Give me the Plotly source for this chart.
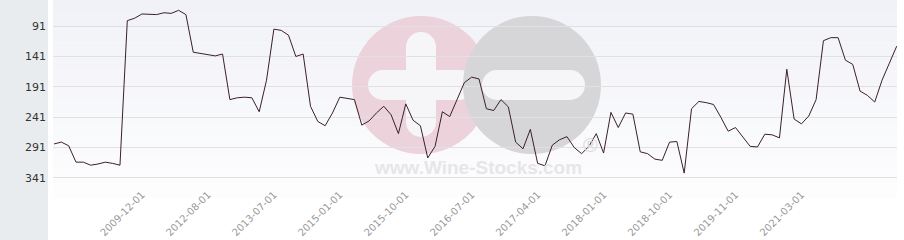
import plotly.graph_objects as go

dates = [
    "2005-01-01", "2005-07-01", "2006-01-01", "2006-06-01", "2006-12-01", "2007-05-01",
    "2007-11-01", "2008-04-01", "2008-09-01", "2009-02-01", "2009-05-01", "2009-09-01",
    "2009-12-01",
    "2010-04-01", "2010-08-01", "2010-12-01", "2011-03-01", "2011-06-01", "2011-10-01",
    "2012-01-01", "2012-05-01",
    "2012-08-01",
    "2012-10-01", "2012-11-01", "2013-01-01", "2013-02-01", "2013-03-01", "2013-04-01",
    "2013-05-01", "2013-06-01",
    "2013-07-01",
    "2013-09-01", "2013-11-01", "2014-01-01", "2014-03-01", "2014-05-01", "2014-07-01",
    "2014-09-01", "2014-11-01",
    "2015-01-01",
    "2015-02-01", "2015-03-01", "2015-04-01", "2015-05-01", "2015-06-01", "2015-07-01",
    "2015-08-01", "2015-09-01",
    "2015-10-01",
    "2015-11-01", "2015-12-01", "2016-01-01", "2016-02-01", "2016-03-01", "2016-04-01",
    "2016-05-01", "2016-06-01",
    "2016-07-01",
    "2016-08-01", "2016-09-01", "2016-10-01", "2016-11-01", "2016-12-01", "2017-01-01",
    "2017-02-01", "2017-03-01",
    "2017-04-01",
    "2017-05-01", "2017-06-01", "2017-07-01", "2017-08-01", "2017-09-01", "2017-10-01",
    "2017-11-01", "2017-12-01",
    "2018-01-01",
    "2018-02-01", "2018-03-01", "2018-04-01", "2018-05-01", "2018-06-01", "2018-07-01",
    "2018-08-01", "2018-09-01",
    "2018-10-01",
    "2018-11-01", "2019-01-01", "2019-02-01", "2019-04-01", "2019-05-01", "2019-07-01",
    "2019-08-01", "2019-10-01",
    "2019-11-01",
    "2020-01-01", "2020-03-01", "2020-05-01", "2020-06-01", "2020-08-01", "2020-10-01",
    "2020-12-01", "2021-01-01",
    "2021-03-01",
    "2021-04-01", "2021-05-01", "2021-06-01", "2021-07-01", "2021-08-01", "2021-09-01",
    "2021-10-01", "2021-11-01", "2021-12-01", "2022-01-01", "2022-02-01", "2022-03-01",
    "2022-04-01",
]

ranks = [
    285, 282, 288, 315, 315, 320, 318, 315, 317, 320,
    82, 78, 71, 72, 72, 69, 70, 65, 72, 134,
    136, 137, 140, 137, 212, 209, 208, 209, 232, 180,
    96, 98, 106, 141, 137, 223, 248, 255, 234, 208,
    210, 212, 254, 247, 234, 223, 237, 268, 219, 246,
    255, 308, 289, 232, 240, 212, 184, 175, 178, 227,
    230, 212, 224, 282, 293, 261, 317, 321, 287, 278,
    273, 291, 301, 289, 268, 300, 233, 258, 234, 236,
    298, 301, 310, 312, 282, 281, 333, 227, 215, 217,
    220, 241, 264, 258, 274, 289, 290, 269, 270, 275,
    162, 244, 252, 239, 212, 115, 110, 110, 147, 154,
    198, 205, 216, 180, 152, 124,
]

x_ticks = ["2009-12-01", "2012-08-01", "2013-07-01", "2015-01-01", "2015-10-01",
           "2016-07-01", "2017-04-01", "2018-01-01", "2018-10-01", "2019-11-01",
           "2021-03-01"]
y_ticks = [91, 141, 191, 241, 291, 341]

W, H = 904, 240
L, R, T, B = 53, 7, 0, 42
PW, PH = W - L - R, H - T - B


def xp(px):
    return (px - L) / PW


def yp(py):
    return (T + PH - py) / PH


shapes = []
# left grey panel
shapes.append(dict(type="rect", xref="paper", yref="paper", x0=xp(0), x1=xp(48),
                   y0=yp(H), y1=yp(0), fillcolor="#e8ecef", line_width=0, layer="below"))
# background gradient bands
n = 14
c_top = (241, 242, 247)
c_bot = (253, 253, 254)
for k in range(n):
    t = k / (n - 1)
    c = tuple(round(c_top[j] + (c_bot[j] - c_top[j]) * t) for j in range(3))
    shapes.append(dict(type="rect", xref="paper", yref="paper", x0=0, x1=1,
                       y0=1 - (k + 1) / n, y1=1 - k / n,
                       fillcolor="rgb(%d,%d,%d)" % c, line_width=0, layer="below"))


def circle(cx, cy, r, color):
    return dict(type="circle", xref="paper", yref="paper", x0=xp(cx - r), x1=xp(cx + r),
                y0=yp(cy + r), y1=yp(cy - r), fillcolor=color, line_width=0, layer="below")


def rect(x0, y0, x1, y1, color):
    return dict(type="rect", xref="paper", yref="paper", x0=xp(x0), x1=xp(x1),
                y0=yp(y1), y1=yp(y0), fillcolor=color, line_width=0, layer="below")


pink = "#ecd2da"
grey = "#d6d6d9"
hole = "#f6f6f9"
# plus sign watermark
shapes.append(circle(421, 85, 69, pink))
shapes.append(rect(406, 47, 436, 122, hole))
shapes.append(circle(421, 47, 15, hole))
shapes.append(circle(421, 122, 15, hole))
shapes.append(rect(383, 70, 460, 100, hole))
shapes.append(circle(383, 85, 15, hole))
shapes.append(circle(460, 85, 15, hole))
# minus sign watermark
shapes.append(circle(532, 85, 69, grey))
shapes.append(rect(497, 70, 570, 100, hole))
shapes.append(circle(497, 85, 15, hole))
shapes.append(circle(570, 85, 15, hole))

annotations = [
    dict(xref="paper", yref="paper", x=xp(478), y=yp(167), text="<b>www.Wine-Stocks.com</b>",
         showarrow=False, font=dict(family="Liberation Sans", size=19, color="#e6e6e9"),
         xanchor="center", yanchor="middle"),
    dict(xref="paper", yref="paper", x=xp(590), y=yp(145), text="®",
         showarrow=False, font=dict(family="Liberation Sans", size=20, color="#dadadd"),
         xanchor="center", yanchor="middle"),
]

fig = go.Figure()
fig.add_trace(go.Scatter(x=dates, y=ranks, mode="lines",
                         line=dict(color="#3b1f2b", width=1), hoverinfo="x+y"))

fig.update_layout(
    width=W, height=H,
    margin=dict(l=L, r=R, t=T, b=B, pad=0),
    paper_bgcolor="white",
    plot_bgcolor="rgba(0,0,0,0)",
    showlegend=False,
    shapes=shapes,
    annotations=annotations,
    font=dict(family="DejaVu Sans"),
)
fig.update_xaxes(type="category", range=[-0.14, 115.04], tickmode="array", tickvals=x_ticks,
                 ticktext=x_ticks, tickangle=-45, showgrid=False, showline=False, zeroline=False,
                 ticks="", automargin=False, ticklabelstandoff=-12,
                 tickfont=dict(family="DejaVu Sans", size=10, color="#999999"))
fig.update_yaxes(range=[374, 48], tickmode="array", tickvals=y_ticks,
                 ticktext=[str(v) for v in y_ticks], showgrid=True, gridcolor="#e1e1e5",
                 gridwidth=1, zeroline=False, showline=False, ticks="", automargin=False,
                 ticklabelstandoff=6,
                 tickfont=dict(family="DejaVu Sans", size=11, color="#333333"))

fig.write_html("out.html")
